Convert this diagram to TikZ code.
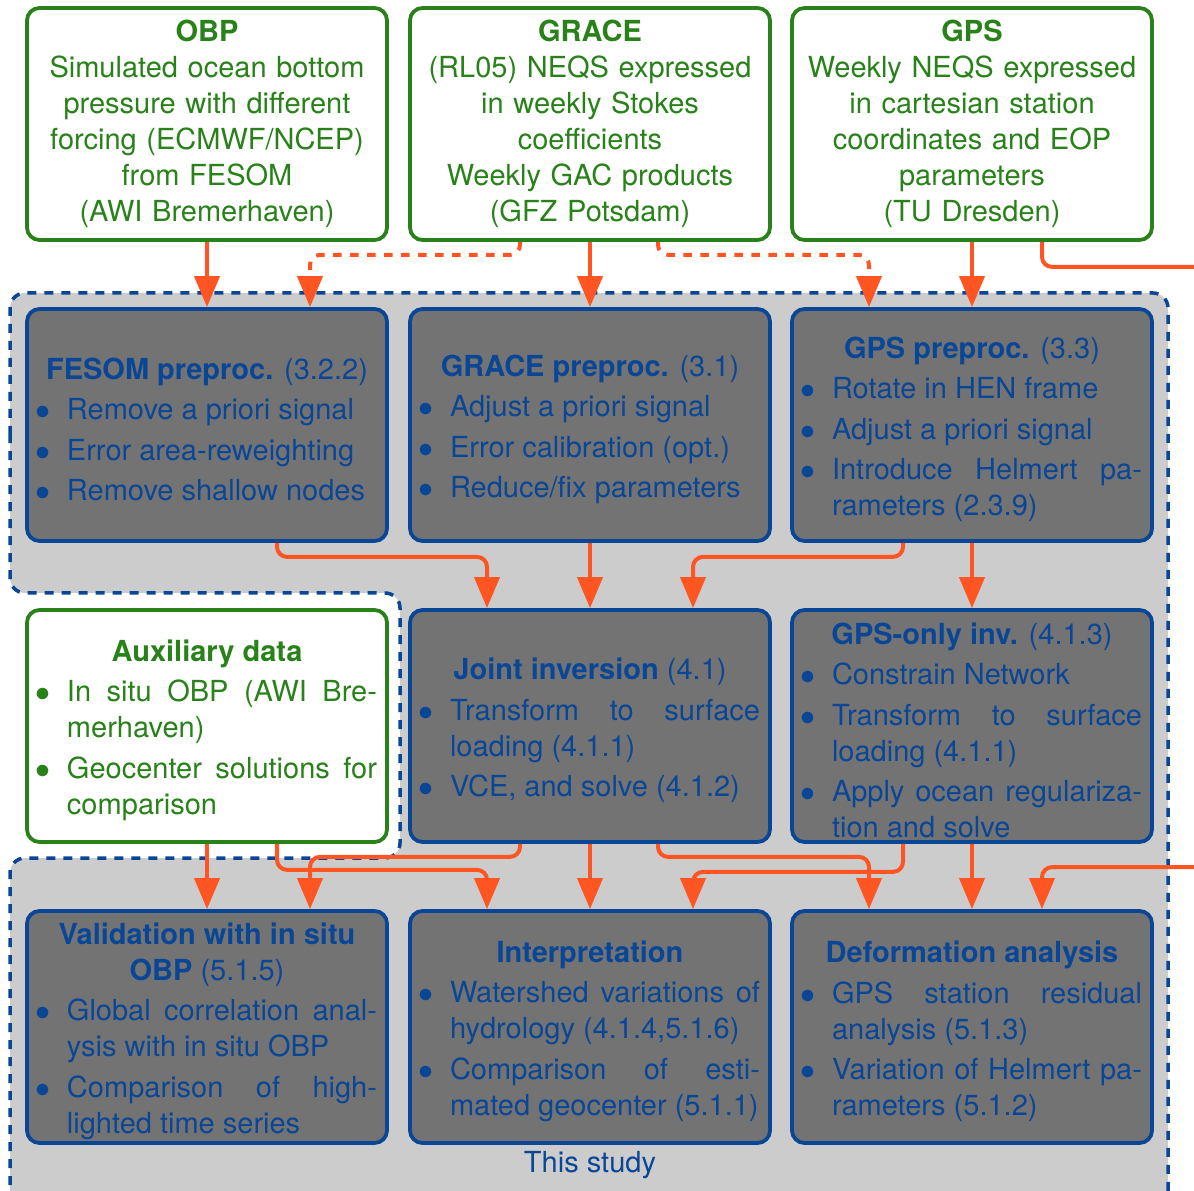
\documentclass[tikz,border=0pt]{standalone}
\usepackage{fontspec}
\setmainfont{TeX Gyre Heros}
\usepackage{enumitem}
\usetikzlibrary{arrows.meta,calc}
\definecolor{srcgreen}{RGB}{40,130,25}
\definecolor{studyblue}{RGB}{10,70,150}
\definecolor{boxgray}{RGB}{115,115,115}
\definecolor{areagray}{RGB}{204,204,204}
\definecolor{flowred}{RGB}{255,85,34}
\setlist[itemize]{label=$\bullet$,leftmargin=12pt,labelwidth=6pt,labelsep=6.5pt,topsep=1.8pt,partopsep=0pt,parsep=0pt,itemsep=1.8pt}
% title line and bullet list of a box, set a little low
\newcommand{\boxbody}[2]{{\centering\rule{0pt}{10.3pt}#1\par}\begin{itemize}#2\end{itemize}\par\unskip\kern-1.8pt}

\begin{document}
\begin{tikzpicture}[x=0.4pt,y=-0.4pt,
	every node/.style={font=\fontsize{11.6}{14.4}\selectfont},
	source/.style={draw=srcgreen, line width=1.5pt, fill=white, rounded corners=5pt, text=srcgreen,
		minimum width=144pt, minimum height=92.8pt, text width=136pt, inner xsep=4pt, inner ysep=1pt, align=center},
	work/.style={draw=studyblue, line width=1.5pt, fill=boxgray, rounded corners=5pt, text=studyblue,
		minimum width=144pt, minimum height=92.8pt, text width=136pt, inner xsep=4pt, inner ysep=1pt, align=justify},
	flow/.style={draw=flowred, line width=1.6pt, rounded corners=4pt, -{Triangle[length=12.4pt,width=10pt]}},
	dots/.style={flow, dash pattern=on 3.4pt off 3.4pt}]
	\useasboundingbox (0,0) rectangle (1194,1191);
	\clip (0,0) rectangle (1194,1191);
	% this study
	\draw[studyblue, line width=1.4pt, dash pattern=on 3.6pt off 3.2pt, fill=areagray, rounded corners=6pt]
		(10,450) -- (10,293) -- (1168,293) -- (1168,1206) -- (10,1206) -- (10,858) -- (400,858) -- (400,593) -- (10,593) -- cycle;
	\node[text=studyblue] (study) at (590,1165) {This study};
	% data sources
	\node[source] (obp) at (207,124) {\textbf{OBP}\\ Simulated ocean bottom\\ pressure with different\\ forcing (ECMWF/NCEP)\\ from FESOM\\ (AWI Bremerhaven)};
	\node[source] (grace) at (590,124) {\textbf{GRACE}\\ (RL05) NEQS expressed\\ in weekly Stokes\\ coefficients\\ Weekly GAC products\\ (GFZ Potsdam)};
	\node[source] (gps) at (972,124) {\textbf{GPS}\\ Weekly NEQS expressed\\ in cartesian station\\ coordinates and EOP\\ parameters\\ (TU Dresden)};
	% preprocessing
	\node[work] (fesom) at (207,425) {\boxbody{\textbf{FESOM preproc.} (3.2.2)}{
			\item Remove a priori signal
			\item Error area-reweighting
			\item Remove shallow nodes}};
	\node[work] (gracepre) at (590,425) {\boxbody{\textbf{GRACE preproc.} (3.1)}{
			\item Adjust a priori signal
			\item Error calibration (opt.)
			\item Reduce/fix parameters}};
	\node[work] (gpspre) at (972,425) {\boxbody{\textbf{GPS preproc.} (3.3)}{
			\item Rotate in HEN frame
			\item Adjust a priori signal
			\item Introduce Helmert pa-\linebreak rameters (2.3.9)}};
	% inversion
	\node[source, align=justify] (aux) at (207,726) {\boxbody{\textbf{Auxiliary data}}{
			\item In situ OBP (AWI Bre-\linebreak merhaven)
			\item Geocenter solutions for\linebreak comparison}};
	\node[work] (joint) at (590,726) {\boxbody{\textbf{Joint inversion} (4.1)}{
			\item Transform to surface\linebreak loading (4.1.1)
			\item VCE, and solve (4.1.2)}};
	\node[work] (gpsonly) at (972,726) {\boxbody{\textbf{GPS-only inv.} (4.1.3)}{
			\item Constrain Network
			\item Transform to surface\linebreak loading (4.1.1)
			\item Apply ocean regulariza-\linebreak tion and solve}};
	% results
	\node[work] (valid) at (207,1027) {\boxbody{\textbf{Validation with in situ}\\ \textbf{OBP} (5.1.5)}{
			\item Global correlation anal-\linebreak ysis with in situ OBP
			\item Comparison of high-\linebreak lighted time series}};
	\node[work] (interp) at (590,1027) {\boxbody{\textbf{Interpretation}}{
			\item Watershed variations of\linebreak hydrology (4.1.4,5.1.6)
			\item Comparison of esti-\linebreak mated geocenter (5.1.1)}};
	\node[work] (deform) at (972,1027) {\boxbody{\textbf{Deformation analysis}}{
			\item GPS station residual\linebreak analysis (5.1.3)
			\item Variation of Helmert pa-\linebreak rameters (5.1.2)}};
	% connectors
	\draw[flow] (obp) -- (fesom);
	\draw[flow] (grace) -- (gracepre);
	\draw[flow] (gps) -- (gpspre);
	\draw[dots] ($(grace.south)+(-70,0)$) -- ++(0,13) -| ($(fesom.north)+(103,0)$);
	\draw[dots] ($(grace.south)+(68,0)$) -- ++(0,13) -| ($(gpspre.north)+(-103,0)$);
	\draw[flow] ($(gps.south)+(70,0)$) -- ++(0,25) -| ($(deform.north)+(232,-42)$) -| ($(deform.north)+(70,0)$);
	\draw[flow] ($(fesom.south)+(70,0)$) -- ++(0,14) -| ($(joint.north)+(-103,0)$);
	\draw[flow] (gracepre) -- (joint);
	\draw[flow] ($(gpspre.south)+(-69,0)$) -- ++(0,14) -| ($(joint.north)+(103,0)$);
	\draw[flow] (gpspre) -- (gpsonly);
	\draw[flow] (aux) -- (valid);
	\draw[flow] ($(aux.south)+(70,0)$) -- ++(0,26) -| ($(interp.north)+(-103,0)$);
	\draw[flow] ($(joint.south)+(-70,0)$) -- ++(0,13) -| ($(valid.north)+(103,0)$);
	\draw[flow] (joint) -- (interp);
	\draw[flow] ($(joint.south)+(68,0)$) -- ++(0,13) -| ($(deform.north)+(-103,0)$);
	\draw[flow] ($(gpsonly.south)+(-69,0)$) -- ++(0,28) -| ($(interp.north)+(103,0)$);
	\draw[flow] (gpsonly) -- (deform);
\end{tikzpicture}
\end{document}
